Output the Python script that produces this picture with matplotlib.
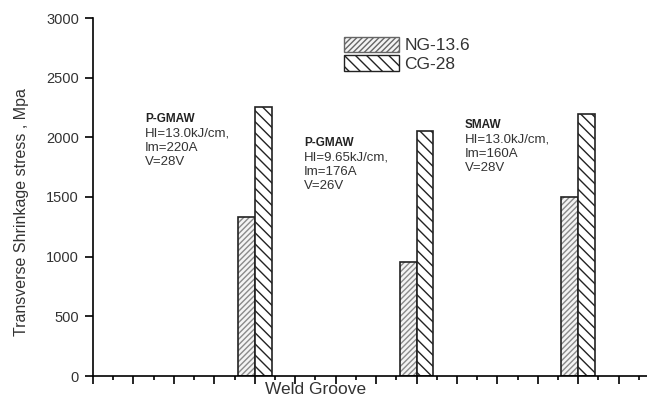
import numpy as np
import matplotlib
matplotlib.use("Agg")
import matplotlib.pyplot as plt
from matplotlib.ticker import MultipleLocator
from matplotlib.patches import Patch

plt.rcParams['font.family'] = ['Liberation Sans', 'DejaVu Sans']

# data
groups = [4, 8, 12]
ng_vals = [1330, 955, 1500]
cg_vals = [2255, 2050, 2195]
series_names = ["NG-13.6", "CG-28"]
notes = [
    ("P-GMAW", ["HI=13.0kJ/cm,", "Im=220A", "V=28V"]),
    ("P-GMAW", ["HI=9.65kJ/cm,", "Im=176A", "V=26V"]),
    ("SMAW", ["HI=13.0kJ/cm,", "Im=160A", "V=28V"]),
]
note_pos = [(1.29, 2154), (5.22, 1953), (9.2, 2103)]

fig = plt.figure(figsize=(6.47, 3.98), dpi=100)
ax = fig.add_axes([93/647, 22/398, 1 - 93/647, (376-18)/398])

w = 0.42
x = np.array(groups)
# hatch layers then outlines
ax.bar(x - w/2, ng_vals, w, color='#f4f4f4', edgecolor='#8a8a8a', hatch='//////', linewidth=0)
ax.bar(x - w/2, ng_vals, w, color='none', edgecolor='#222222', linewidth=1.2)
ax.bar(x + w/2, cg_vals, w, color='white', edgecolor='#222222', hatch='\\\\\\', linewidth=0)
ax.bar(x + w/2, cg_vals, w, color='none', edgecolor='#222222', linewidth=1.2)

ax.set_xlim(0, 13.7)
ax.set_ylim(0, 3000)
ax.spines['top'].set_visible(False)
ax.spines['right'].set_visible(False)
ax.spines['left'].set_linewidth(1.2)
ax.spines['bottom'].set_linewidth(1.2)

ax.yaxis.set_major_locator(MultipleLocator(500))
ax.xaxis.set_major_locator(MultipleLocator(1))
ax.xaxis.set_minor_locator(MultipleLocator(0.5))
ax.set_xticklabels([])
ax.tick_params(axis='x', which='major', direction='out', length=6, width=1.2)
ax.tick_params(axis='x', which='minor', direction='out', length=3, width=1.2)
ax.tick_params(axis='y', direction='out', length=6, width=1.2, labelsize=10.5,
               labelcolor='#333333', pad=4)

ax.set_ylabel("Transverse Shrinkage stress , Mpa", fontsize=11.5, color='#333333')
ax.yaxis.set_label_coords(-(93-29)/(647-93), (376-212)/358)
ax.set_xlabel("Weld Groove", fontsize=12.5, color='#333333')
ax.xaxis.set_label_coords((316-93)/(647-93), -(390-376)/358)
ax.xaxis.label.set_va('center')

for (title, lines), (nx, ny) in zip(notes, note_pos):
    ax.text(nx, ny, title, fontsize=8.5, fontweight='bold', color='#222222', va='center')
    ax.text(nx, ny - 70, "\n".join(lines), fontsize=9.5, color='#333333', va='top', linespacing=1.25)

handles = [
    Patch(facecolor='#f4f4f4', edgecolor='#666666', hatch='//////'),
    Patch(facecolor='white', edgecolor='#222222', hatch='\\\\\\'),
]
ax.legend(handles, series_names, loc='upper left', bbox_to_anchor=((335-93)/(647-93), 1 - (28-18)/358),
          frameon=False, fontsize=12.5, handlelength=3.2, handleheight=1.0, labelspacing=0.1,
          handletextpad=0.3, borderpad=0, labelcolor='#333333')

fig.savefig("out.png", dpi=100)
